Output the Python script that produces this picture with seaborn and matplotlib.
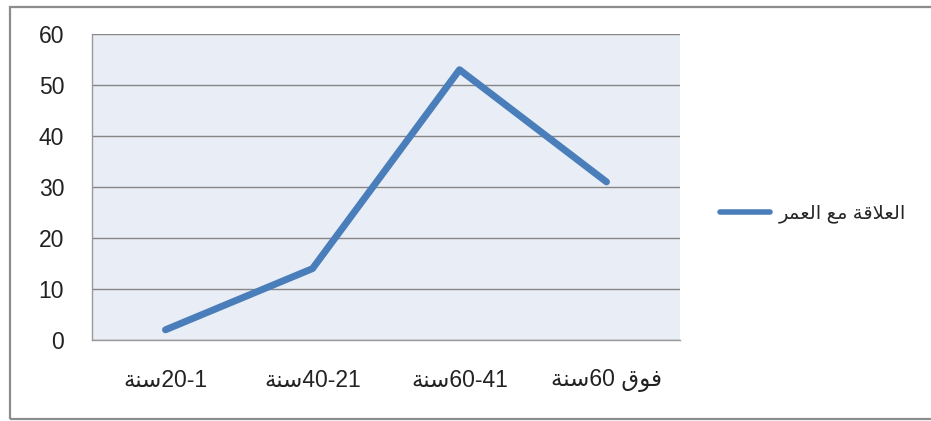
import matplotlib
matplotlib.use("Agg")
import matplotlib.pyplot as plt
import matplotlib.patches as mpatches
from matplotlib.ticker import FixedLocator
import seaborn as sns
import pandas as pd

# Arabic strings written in visual (left-to-right) order with presentation forms
SANA = "\uFE94\uFEE8\uFEB3"          # سنة
FAWQ = "\uFED5\uFEEE\uFED3"          # فوق
categories = [SANA + "20-1", SANA + "40-21", SANA + "60-41", SANA + "60 " + FAWQ]
values = [2, 14, 53, 31]
series_name = ("\uFEAE\uFEE4\uFECC\uFEDF\uFE8D" + " " + "\uFECA\uFEE3" + " "
               + "\uFE94\uFED7\uFEFC\uFECC\uFEDF\uFE8D")   # العلاقة مع العمر
y_ticks = [0, 10, 20, 30, 40, 50, 60]

sns.set_theme(style="white")
plt.rcParams["font.family"] = ["Liberation Sans", "DejaVu Sans"]

df = pd.DataFrame({"cat": categories, "val": values, "series": series_name})
df["pos"] = range(len(categories))

fig = plt.figure(figsize=(9.31, 4.21), dpi=100)
fig.patch.set_facecolor("white")
ax = fig.add_axes([92 / 931, 81 / 421, 588 / 931, 306 / 421])
ax.set_facecolor("#e9edf5")

line_color = "#4a7ebb"
sns.lineplot(data=df, x="pos", y="val", hue="series", palette=[line_color],
             linewidth=5, ax=ax, solid_capstyle="round", solid_joinstyle="round",
             zorder=3)

ax.set_xlim(-0.5, len(categories) - 0.5)
ax.set_ylim(0, 60)
ax.set_yticks(y_ticks)
ax.set_xticks(range(len(categories)))
ax.set_xticklabels(categories)
ax.xaxis.set_minor_locator(FixedLocator([i - 0.5 for i in range(len(categories) + 1)]))
ax.tick_params(axis="x", which="major", length=0, pad=21, labelsize=16.5)
ax.tick_params(axis="x", which="minor", length=6, width=1, color="#9a9a9a", direction="out")
ax.tick_params(axis="y", which="major", length=10, width=1, color="#8a8a8a",
               labelsize=16.5, pad=10)
ax.tick_params(axis="both", labelcolor="#222222")
ax.set_xlabel("")
ax.set_ylabel("")

ax.yaxis.grid(True, color="#868686", linewidth=1)
ax.set_axisbelow(True)
for side in ["top", "right"]:
    ax.spines[side].set_visible(False)
for side in ["left", "bottom"]:
    ax.spines[side].set_color("#9a9a9a")
    ax.spines[side].set_linewidth(1)

leg = ax.legend(loc="center left", bbox_to_anchor=(702 / 931, 207 / 421),
                bbox_transform=fig.transFigure, frameon=False, fontsize=14,
                handlelength=2.6, handletextpad=0.45)
for h in leg.get_lines():
    h.set_linewidth(4)

# outer chart border
fig.patches.append(mpatches.Rectangle((10 / 931, 2 / 421), 1.0, 412 / 421,
                                      transform=fig.transFigure, fill=False,
                                      edgecolor="#8c8c8c", linewidth=1.6))

fig.savefig("out.png", dpi=100)
